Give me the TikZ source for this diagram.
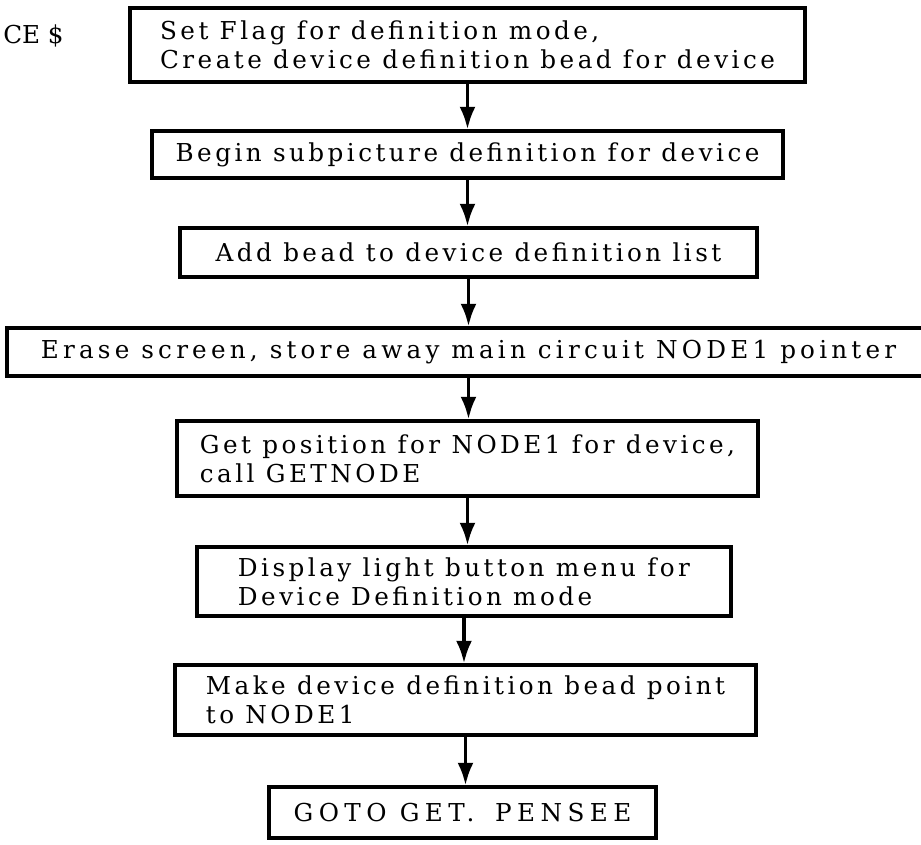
\documentclass[tikz,border=0pt]{standalone}
\usepackage{fontspec}
\setmainfont{DejaVu Serif}[LetterSpace=14]
\usetikzlibrary{arrows.meta}
\begin{document}
\begin{tikzpicture}[x=0.75pt,y=-0.75pt,
  box/.style={draw, line width=2.3pt, rectangle, inner sep=0pt, align=left,
    font=\fontsize{18.5}{22}\selectfont},
  arr/.style={line width=2.8pt, -{Latex[length=17pt,width=12pt]}},
]
\useasboundingbox (0,0) rectangle (921,845);
\node[anchor=base west, inner sep=0pt, font=\fontsize{18.5}{22}\selectfont\addfontfeature{LetterSpace=0}] (ce) at (3,44) {CE \$};

\node[box, minimum width=506.25pt, minimum height=55.5pt]
  (b1) at (467.5,45) {Set Flag for definition mode,\\Create device definition bead for device};
\node[box, minimum width=473.25pt, minimum height=35.25pt]
  (b2) at (467.5,154.5) {Begin subpicture definition for device};
\node[box, minimum width=432.75pt, minimum height=36.75pt]
  (b3) at (468.5,252.5) {Add bead to device definition list};
\node[box, minimum width=692.25pt, minimum height=36pt, font=\fontsize{18.5}{22}\selectfont\addfontfeature{LetterSpace=17}]
  (b4) at (468.5,352) {Erase screen, store away main circuit NODE1 pointer};
\node[box, minimum width=435.75pt, minimum height=56.25pt]
  (b5) at (467.5,458.5) {Get position for NODE1 for device,\\call GETNODE};
\node[box, minimum width=400.5pt, minimum height=51.75pt]
  (b6) at (464,581.5) {Display light button menu for\\Device Definition mode};
\node[box, minimum width=435.75pt, minimum height=52.5pt]
  (b7) at (465.5,700) {Make device definition bead point\\to NODE1};
\node[box, minimum width=290.25pt, minimum height=38.25pt, font=\fontsize{18.5}{22}\selectfont\addfontfeature{LetterSpace=22}]
  (b8) at (462.5,812.5) {GOTO GET.\hspace{0.3em} PENSEE};

\draw[arr] (b1.south) -- (b1.south |- b2.north);
\draw[arr] (b2.south) -- (b2.south |- b3.north);
\draw[arr] (b3.south) -- (b3.south |- b4.north);
\draw[arr] (b4.south) -- (b4.south |- b5.north);
\draw[arr] (b5.south) -- (b5.south |- b6.north);
\draw[arr] (b6.south) -- (b6.south |- b7.north);
\draw[arr] (b7.south) -- (b7.south |- b8.north);
\end{tikzpicture}
\end{document}
